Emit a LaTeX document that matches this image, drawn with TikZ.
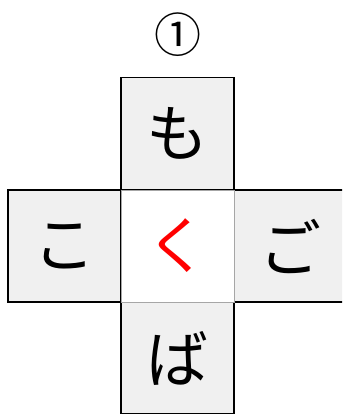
\documentclass[tikz,border=0pt]{standalone}
\usepackage{fontspec}
\usepackage{xcolor}
\usepackage{tikz}
\newfontfamily\jpfont{Noto Sans CJK JP}
\definecolor{cellgray}{HTML}{F0F0F0}

\begin{document}
\begin{tikzpicture}[x=1pt, y=-1pt,
  cell/.style={draw, line width=1.5pt, fill=cellgray, minimum width=113pt, minimum height=112pt, inner sep=0pt, font=\jpfont\fontsize{62}{62}\selectfont},
  mid/.style={draw=gray!70, line width=0.8pt, fill=white, minimum width=113pt, minimum height=112pt, inner sep=0pt, font=\jpfont\fontsize{62}{62}\selectfont, text=red}
]
\useasboundingbox (0,0) rectangle (342,414);
\clip (0,0) rectangle (342,414);
\node[font=\jpfont\fontsize{47}{47}\selectfont] (num) at (178,35) {①};
\node[cell] (mo) at (177.5,133.5) {も};
\node[cell] (ko) at (64.5,246) {こ};
\node[cell] (go) at (290,246) {ご};
\node[cell] (ba) at (177.5,358) {ば};
\node[mid] (ku) at (177.5,246) {く};
\end{tikzpicture}
\end{document}
